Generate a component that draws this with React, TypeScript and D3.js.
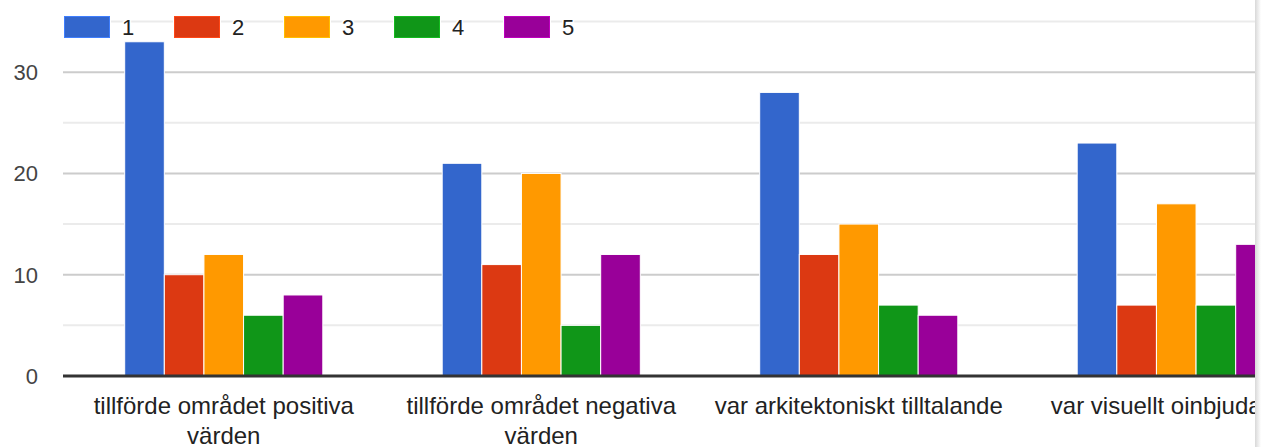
import { useEffect, useRef } from "react";
import * as d3 from "d3";

const categories = [
  "tillförde området positiva värden",
  "tillförde området negativa värden",
  "var arkitektoniskt tilltalande",
  "var visuellt oinbjudande",
];
const seriesNames = ["1", "2", "3", "4", "5"];
const seriesColors = ["#3366cc", "#dc3912", "#ff9900", "#109618", "#990099"];
const values1 = [33, 21, 28, 23];
const values2 = [10, 11, 12, 7];
const values3 = [12, 20, 15, 17];
const values4 = [6, 5, 7, 7];
const values5 = [8, 12, 6, 13];
const majorTicks = [0, 10, 20, 30];
const minorTicks = [5, 15, 25, 35];

const W = 1267;
const H = 447;
const clipX = 1255;

const App = () => {
  const ref = useRef<SVGSVGElement>(null);

  useEffect(() => {
    const svg = d3.select(ref.current);
    svg.selectAll("*").remove();
    const font = "Arial, 'Liberation Sans', sans-serif";
    const series = [values1, values2, values3, values4, values5];

    svg.append("rect").attr("width", W).attr("height", H).attr("fill", "#fff");

    const defs = svg.append("defs");
    defs.append("clipPath").attr("id", "cut")
      .append("rect").attr("x", 0).attr("y", 0).attr("width", clipX).attr("height", H);
    const grad = defs.append("linearGradient").attr("id", "shadow");
    grad.append("stop").attr("offset", "0%").attr("stop-color", "#d8d8d8");
    grad.append("stop").attr("offset", "100%").attr("stop-color", "#ffffff");

    const root = svg.append("g").attr("clip-path", "url(#cut)");

    const left = 65;
    const y = d3.scaleLinear().domain([0, 35]).range([376, 21.5]);
    const x0 = d3.scaleBand<string>()
      .domain(categories)
      .range([left, left + 4 * 317.5])
      .paddingInner(0.376)
      .paddingOuter(0.188);
    const x1 = d3.scaleBand<string>()
      .domain(seriesNames)
      .range([0, x0.bandwidth()]);

    // gridlines
    root.append("g").selectAll("line")
      .data(minorTicks)
      .join("line")
      .attr("x1", 63).attr("x2", clipX)
      .attr("y1", (d) => y(d)).attr("y2", (d) => y(d))
      .attr("stroke", "#ebebeb").attr("stroke-width", 2);
    root.append("g").selectAll("line")
      .data(majorTicks.filter((d) => d !== 0))
      .join("line")
      .attr("x1", 63).attr("x2", clipX)
      .attr("y1", (d) => y(d)).attr("y2", (d) => y(d))
      .attr("stroke", "#cccccc").attr("stroke-width", 2);

    // bars
    const groups = root.append("g").selectAll("g")
      .data(categories)
      .join("g")
      .attr("transform", (c) => `translate(${x0(c)},0)`);
    groups.selectAll("rect")
      .data((c, i) => series.map((s, k) => ({ key: seriesNames[k], value: s[i], color: seriesColors[k] })))
      .join("rect")
      .attr("x", (d) => x1(d.key)!)
      .attr("y", (d) => y(d.value))
      .attr("width", x1.bandwidth())
      .attr("height", (d) => y(0) - y(d.value))
      .attr("fill", (d) => d.color)
      .attr("stroke", "#fff")
      .attr("stroke-width", 1);

    // baseline
    root.append("line")
      .attr("x1", 63).attr("x2", clipX)
      .attr("y1", y(0)).attr("y2", y(0))
      .attr("stroke", "#333").attr("stroke-width", 3);

    // y tick labels
    root.append("g").selectAll("text")
      .data(majorTicks)
      .join("text")
      .attr("x", 38)
      .attr("y", (d) => y(d) + 8)
      .attr("text-anchor", "end")
      .attr("font-family", font)
      .attr("font-size", 22)
      .attr("fill", "#444")
      .text((d) => d);

    // x category labels, wrapped
    const wrap = (s: string) => {
      const words = s.split(" ");
      if (s.length <= 30) return [s];
      return [words.slice(0, -1).join(" "), words[words.length - 1]];
    };
    const labels = root.append("g").selectAll("text")
      .data(categories)
      .join("text")
      .attr("x", (c) => x0(c)! + x0.bandwidth() / 2)
      .attr("y", 414)
      .attr("text-anchor", "middle")
      .attr("font-family", font)
      .attr("font-size", 24)
      .attr("fill", "#222");
    labels.selectAll("tspan")
      .data((c) => wrap(c))
      .join("tspan")
      .attr("x", function () {
        return (this as SVGTSpanElement).parentElement!.getAttribute("x");
      })
      .attr("dy", (_, i) => (i === 0 ? 0 : 30))
      .text((d) => d);

    // legend
    const legend = root.append("g").selectAll("g")
      .data(seriesNames)
      .join("g")
      .attr("transform", (_, i) => `translate(${64 + i * 110},16)`);
    legend.append("rect")
      .attr("x", -1).attr("y", -1).attr("width", 48).attr("height", 24)
      .attr("fill", "#fff");
    legend.append("rect")
      .attr("x", 0.5).attr("y", 0.5).attr("width", 45).attr("height", 21)
      .attr("fill", (_, i) => seriesColors[i])
      .attr("stroke", (_, i) => d3.color(seriesColors[i])!.brighter(0.6).formatHex())
      .attr("stroke-width", 1);
    legend.append("text")
      .attr("x", 58).attr("y", 19)
      .attr("font-family", font)
      .attr("font-size", 22)
      .attr("fill", "#222")
      .attr("stroke", "#fff").attr("stroke-width", 3).attr("paint-order", "stroke")
      .text((d) => d);

    // right edge shadow
    svg.append("rect")
      .attr("x", clipX).attr("y", 0).attr("width", W - clipX).attr("height", H)
      .attr("fill", "#fff");
    svg.append("rect")
      .attr("x", clipX).attr("y", 0).attr("width", 6).attr("height", H)
      .attr("fill", "url(#shadow)");
  }, []);

  return (
    <svg ref={ref} width={W} height={H}
      style={{ position: "absolute", left: 0, top: 0, display: "block" }} />
  );
};

export default App;
